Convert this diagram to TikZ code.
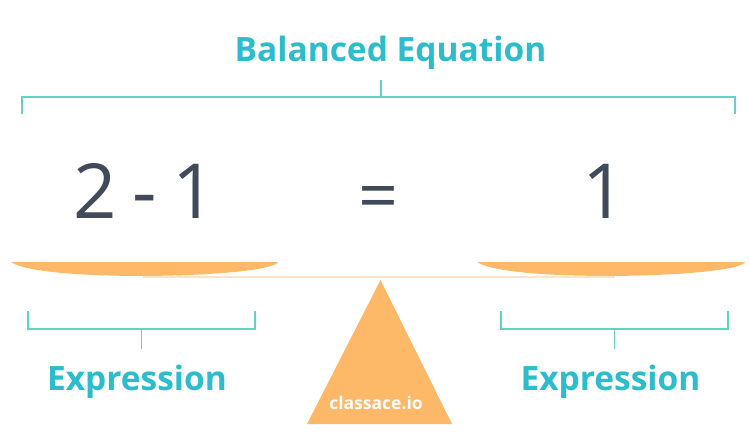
\documentclass[tikz,border=0pt]{standalone}
\usepackage{fontspec}
\setmainfont{Open Sans}
\definecolor{teal}{HTML}{2DBCCB}
\definecolor{mint}{HTML}{5ED4C3}
\definecolor{slate}{HTML}{414A5A}
\definecolor{pan}{HTML}{FDB868}
\definecolor{beam}{HTML}{FDE4C6}
\tikzset{
  heading/.style={text=teal, font=\fontsize{33.5}{36}\selectfont\bfseries, inner sep=0pt, anchor=base},
  bigtext/.style={text=slate, font=\fontsize{76}{80}\selectfont, inner sep=0pt, anchor=base},
  brk/.style={draw=mint, line width=1.6pt},
  panshape/.style={fill=pan, draw=none},
}
\begin{document}
\begin{tikzpicture}[x=1pt,y=-1pt]
\useasboundingbox (0,0) rectangle (750,439);
% title and top bracket
\node[heading] (title) at (390.5,61) {Balanced Equation};
\coordinate (tl) at (22,114);
\coordinate (tr) at (735,114);
\coordinate (tc) at (381,97);
\coordinate (tct) at (381,80);
\draw[brk] (tl) -- (22,97) -- (735,97) -- (tr);
\draw[brk] (tct) -- (tc);
% equation
\node[bigtext] (lhs) at (144.5,218) {2\hspace{-4pt} - \hspace{-4pt}1};
\node[bigtext, font=\fontsize{70}{74}\selectfont] (eq) at (378.5,220) {=};
\node[bigtext] (rhs) at (604,218) {1};
% beam
\draw[beam, line width=2.2pt] (143,277) -- (615,277);
% pans
\path[panshape] (11,262) -- (278,262) .. controls (270,278) and (40,283) .. (11,262) -- cycle;
\path[panshape] (477,262) -- (745,262) .. controls (737,278) and (507,283) .. (477,262) -- cycle;
% fulcrum
\path[fill=pan] (380.5,280) -- (452,424) -- (307,424) -- cycle;
\node[text=white, font=\fontsize{17.5}{20}\selectfont\bfseries, inner sep=0pt, anchor=base] (brand) at (376,409) {classace.io};
% lower brackets
\draw[brk] (28,311) -- (28,329) -- (255,329) -- (255,311);
\draw[brk] (141.5,329) -- (141.5,349);
\draw[brk] (501,311) -- (501,329) -- (728,329) -- (728,311);
\draw[brk] (614.5,329) -- (614.5,349);
\node[heading] (exl) at (137,390) {Expression};
\node[heading] (exr) at (610.5,390) {Expression};
\end{tikzpicture}
\end{document}
